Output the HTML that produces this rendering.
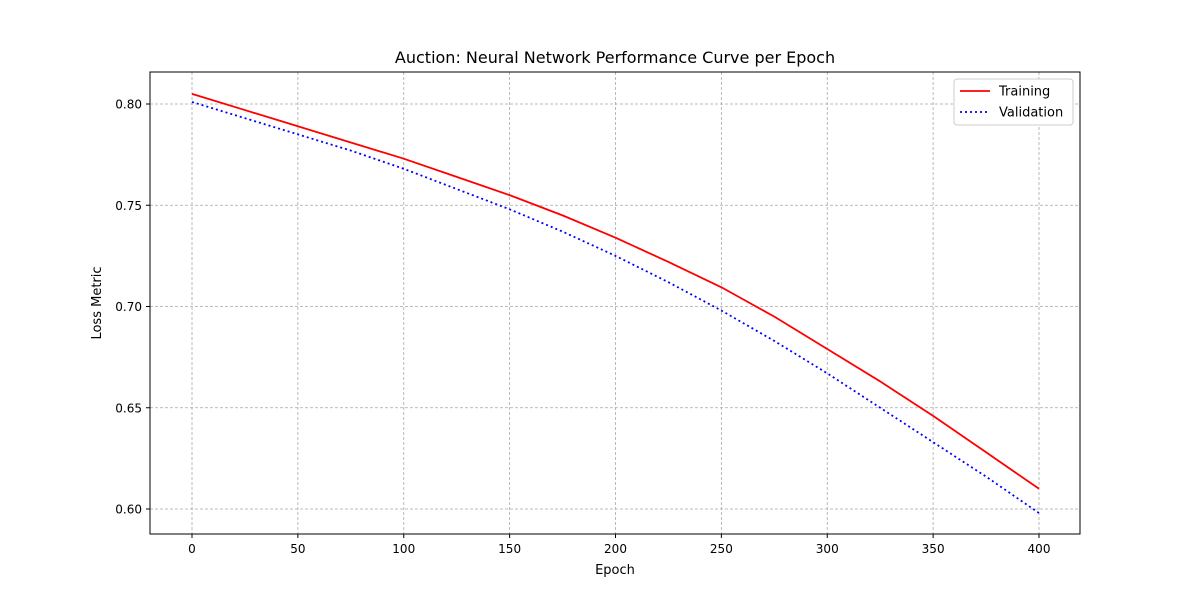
<!DOCTYPE html>
<html><head><meta charset="utf-8"><style>
body{margin:0;background:#fff;font-family:"Liberation Sans","DejaVu Sans",sans-serif}
svg text{font-family:"DejaVu Sans","Liberation Sans",sans-serif}
</style></head><body>
<svg id="chart" width="1200" height="600">
<rect width="1200" height="600" fill="#fff"/>
<text x="615" y="63" text-anchor="middle" font-size="16">Auction: Neural Network Performance Curve per Epoch</text>
<g id="grid"></g><g id="ticks"></g><g id="lines"></g>
<rect x="150" y="72" width="930" height="462" fill="none" stroke="#000" stroke-width="1"/>
<text x="615" y="574" text-anchor="middle" font-size="13">Epoch</text>
<text transform="translate(101,303) rotate(-90)" text-anchor="middle" font-size="13">Loss Metric</text>
<g>
<rect x="954" y="79" width="119" height="46" rx="3" fill="#fff" stroke="#ccc"/>
<line x1="960" y1="91" x2="990" y2="91" stroke="red" stroke-width="1.8"/>
<text x="999" y="95.5" font-size="13">Training</text>
<line x1="960" y1="112" x2="990" y2="112" stroke="blue" stroke-width="1.8" stroke-dasharray="2,3"/>
<text x="999" y="116.5" font-size="13">Validation</text>
</g>
</svg>
<script>
const epochs=[0,25,50,75,100,125,150,175,200,225,250,275,300,325,350,375,400];
const training=[0.805,0.797,0.789,0.781,0.773,0.764,0.755,0.745,0.734,0.722,0.7095,0.695,0.679,0.663,0.646,0.628,0.610];
const validation=[0.801,0.793,0.785,0.777,0.768,0.758,0.748,0.737,0.725,0.712,0.698,0.683,0.667,0.650,0.633,0.616,0.598];
const xTicks=[0,50,100,150,200,250,300,350,400];
const yTicks=[0.60,0.65,0.70,0.75,0.80];
const NS="http://www.w3.org/2000/svg";
const xs=v=>192+v*(1039-192)/400;
const ys=v=>509-(v-0.60)*(509-104)/0.2;
function mk(tag,attrs,parent){const e=document.createElementNS(NS,tag);for(const k in attrs)e.setAttribute(k,attrs[k]);document.getElementById(parent).appendChild(e);return e;}
xTicks.forEach(t=>{
 const g=mk('line',{x1:xs(t),x2:xs(t),y1:72,y2:534,stroke:'#a8a8a8','stroke-width':0.8,'stroke-dasharray':'3,2'},'grid');
 
 
 mk('line',{x1:xs(t),x2:xs(t),y1:534,y2:538,stroke:'#000'},'ticks');
 const tx=mk('text',{x:xs(t),y:553,'text-anchor':'middle','font-size':12},'ticks');tx.textContent=t;
 
 
});
yTicks.forEach(t=>{
 const g=mk('line',{x1:150,x2:1080,y1:ys(t),y2:ys(t),stroke:'#a8a8a8','stroke-width':0.8,'stroke-dasharray':'3,2'},'grid');
 
 
 mk('line',{x1:146,x2:150,y1:ys(t),y2:ys(t),stroke:'#000'},'ticks');
 const tx=mk('text',{x:142,y:ys(t)+4.5,'text-anchor':'end','font-size':12},'ticks');tx.textContent=t.toFixed(2);
 
 
});
function pts(arr){return epochs.map((e,i)=>xs(e)+','+ys(arr[i])).join(' ');}
const l1=mk('polyline',{points:pts(training),fill:'none',stroke:'red','stroke-width':1.8,'stroke-linejoin':'round'},'lines');


const l2=mk('polyline',{points:pts(validation),fill:'none',stroke:'blue','stroke-width':1.8,'stroke-dasharray':'2,3'},'lines');


</script>
</body></html>
